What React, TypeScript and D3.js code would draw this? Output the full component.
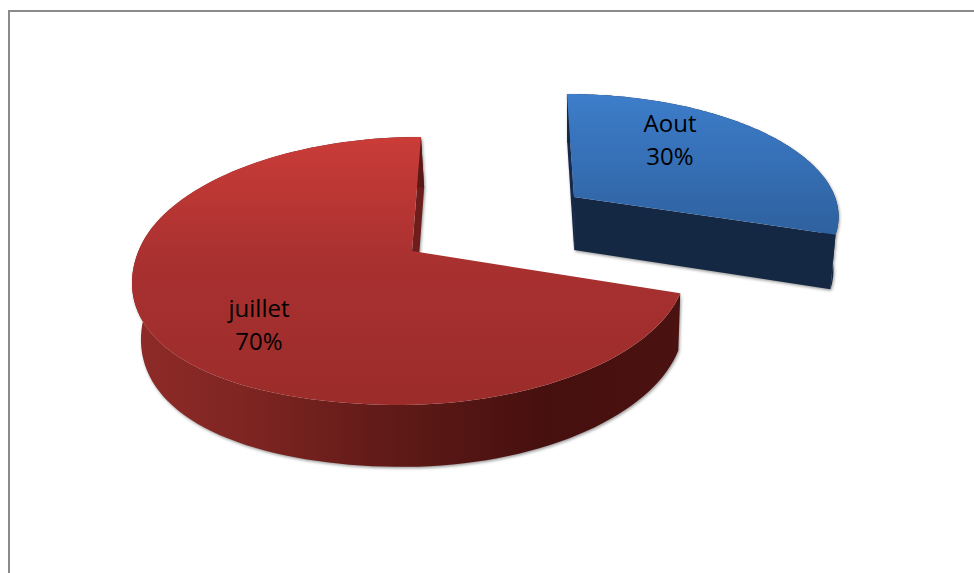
import React from "react";
import * as d3 from "d3";

const categories = ["juillet", "Aout"];
const shares = [70, 30];
const sliceOrder = ["Aout", "juillet"];

type Lens = { ax: number; ay: number; R: number; B: number; S: number; c: number; d: number; bulge: number };

// Tilted-disc projection of each slice, measured from its own apex.
const lenses: Record<string, Lens> = {
  juillet: { ax: 412, ay: 251, R: 273, B: 131, S: -10.3, c: 0.149, d: 0.002, bulge: 17 },
  Aout: { ax: 574, ay: 197, R: 261, B: 116.8, S: 8, c: 0.134, d: 0, bulge: 0 },
};

const project = (l: Lens, r: number, a: number): [number, number] => {
  const u = r * Math.sin(a);
  const v = -r * Math.cos(a);
  const s = 1 / (1 - l.c * v + l.d * u);
  // The near-left quadrant sits closer to the viewer and swells outward.
  const q = l.bulge * (u < 0 ? u * u : 0) * Math.max(0, v);
  return [l.ax + (l.R * u + l.S * v) * s - 0.5 * q, l.ay + l.B * v * s + q];
};

// Lower rim of the disc: verticals converge slightly towards x = 580.
const lower = ([x, y]: [number, number]): [number, number] => [
  x - 0.02 * (x - 580),
  y + 53 + 0.043 * (y - 197),
];

const pieLayout = d3
  .pie<string>()
  .value((name) => shares[categories.indexOf(name)])
  .sort(null);

const path = d3.line<[number, number]>();

const arcPoints = (l: Lens, a0: number, a1: number) =>
  d3.range(0, 121).map((i) => project(l, 1, a0 + ((a1 - a0) * i) / 120));

const labels = [
  { name: "juillet", text: "70%", x: 259, y: 317 },
  { name: "Aout", text: "30%", x: 670, y: 132 },
];

const redSideStops: [number, string][] = [
  [0, "#8f2b28"],
  [0.2, "#7f2522"],
  [0.45, "#621b18"],
  [0.75, "#46100e"],
  [1, "#4a1210"],
];

export default function App() {
  const slices = pieLayout(sliceOrder);
  return (
    <svg
      width={974}
      height={573}
      style={{ position: "absolute", left: 0, top: 0, background: "#fff" }}
    >
      <defs>
        <linearGradient id="redTop" x1="0" y1="0" x2="0" y2="1">
          <stop offset="0" stopColor="#ca3c38" />
          <stop offset="0.45" stopColor="#a93130" />
          <stop offset="1" stopColor="#9b2c2a" />
        </linearGradient>
        <linearGradient id="blueTop" x1="0" y1="0" x2="0" y2="1">
          <stop offset="0" stopColor="#3d7dca" />
          <stop offset="1" stopColor="#2e619f" />
        </linearGradient>
        <linearGradient id="redSide" gradientUnits="userSpaceOnUse" x1="133" y1="0" x2="681" y2="0">
          {redSideStops.map(([o, c]) => (
            <stop key={o} offset={o} stopColor={c} />
          ))}
        </linearGradient>
        <filter id="rimShadow" x="-5%" y="-5%" width="110%" height="110%">
          <feGaussianBlur stdDeviation="1.6" />
        </filter>
      </defs>

      <path d="M9 573V11H974" fill="none" stroke="#8a8a8a" strokeWidth={2} />

      {slices.map((sl) => {
        const name = sl.data;
        const l = lenses[name];
        const rim = arcPoints(l, sl.startAngle, sl.endAngle);
        const apex = project(l, 0, 0);
        const isRed = name === "juillet";
        const first = rim[0];
        const last = rim[rim.length - 1];

        // Faces of the slice's thickness: outer wall and the two radial cuts.
        const wall = [...rim, ...rim.map(lower).reverse()];
        const backCut = isRed
          ? [last, apex, lower(apex), lower(last)]
          : [first, apex, lower(apex), lower(first)];
        const frontCut = [last, apex, lower(apex), lower(last)];
        const shadowShapes = isRed ? [wall, backCut] : [wall, backCut, frontCut];

        return (
          <g key={name}>
            <g filter="url(#rimShadow)" opacity={0.75} transform="translate(1,1.5)">
              {shadowShapes.map((shape, i) => (
                <path key={i} d={path(shape) + "Z"} fill="#777" />
              ))}
            </g>
            <path d={path(backCut) + "Z"} fill={isRed ? "#6d1d1b" : "#16294a"} />
            <path d={path(wall) + "Z"} fill={isRed ? "url(#redSide)" : "#152843"} />
            {!isRed && <path d={path(frontCut) + "Z"} fill="#152843" />}
            <path
              d={path([...rim, apex]) + "Z"}
              fill={isRed ? "url(#redTop)" : "url(#blueTop)"}
            />
          </g>
        );
      })}

      {labels.map((lb) => (
        <text
          key={lb.name}
          x={lb.x}
          y={lb.y}
          textAnchor="middle"
          fontFamily="'Open Sans', sans-serif"
          fontSize={24}
          fill="#000"
        >
          <tspan x={lb.x}>{lb.name}</tspan>
          <tspan x={lb.x} dy={33}>{lb.text}</tspan>
        </text>
      ))}
    </svg>
  );
}
